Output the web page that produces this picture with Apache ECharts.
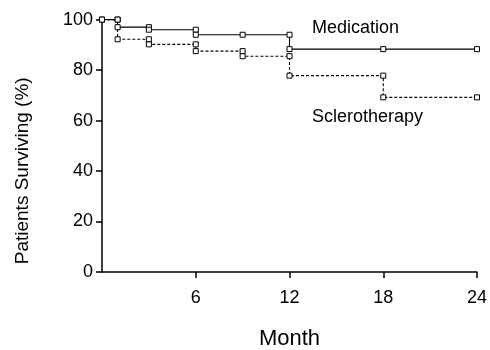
<!DOCTYPE html>
<html>
<head>
<meta charset="utf-8">
<script src="https://cdn.jsdelivr.net/npm/echarts@6/dist/echarts.min.js"></script>
<style>
html,body{margin:0;padding:0;background:#fff;}
#chart{width:490px;height:350px;}
</style>
</head>
<body>
<div id="chart"></div>
<script>
const months = [0, 1, 3, 6, 9, 12, 18, 24];
const medication = [100, 97, 96, 94, 94, 88.3, 88.3, 88.3];
const sclerotherapy = [100, 92.2, 90.2, 87.5, 85.5, 77.8, 69.2, 69.2];
const xTicks = [6, 12, 18, 24];
const yTicks = [0, 20, 40, 60, 80, 100];

function stepPoints(ts, vs) {
  const pts = [[ts[0], vs[0]]];
  for (let i = 1; i < ts.length; i++) {
    if (vs[i] !== vs[i - 1]) pts.push([ts[i], vs[i - 1]]);
    pts.push([ts[i], vs[i]]);
  }
  return pts;
}

const FONT = "'Liberation Sans', Arial, Helvetica, sans-serif";
const chart = echarts.init(document.getElementById('chart'), null, {renderer: 'canvas'});
const axisLine = {show: true, lineStyle: {color: '#000', width: 1.5}};
chart.setOption({
  animation: false,
  backgroundColor: '#fff',
  grid: {left: 102, right: 13, top: 19.6, bottom: 78, containLabel: false, outerBoundsMode: 'none'},
  xAxis: {
    type: 'value', min: 0, max: 24, interval: 6,
    axisLine: axisLine,
    axisTick: {show: true, length: 6, customValues: xTicks, lineStyle: {color: '#000', width: 1.5}},
    splitLine: {show: false},
    axisLabel: {
      color: '#000', fontSize: 18, fontFamily: FONT, margin: 17,
      customValues: xTicks,
      formatter: v => String(v)
    },
    name: 'Month', nameLocation: 'middle', nameGap: 56,
    nameTextStyle: {color: '#000', fontSize: 22, fontFamily: FONT}
  },
  yAxis: {
    type: 'value', min: 0, max: 100, interval: 20,
    axisLine: axisLine,
    axisTick: {show: true, length: 6, lineStyle: {color: '#000', width: 1.5}},
    splitLine: {show: false},
    axisLabel: {
      color: '#000', fontSize: 18, fontFamily: FONT, margin: 9,
      formatter: v => yTicks.includes(v) ? String(v) : ''
    },
    name: 'Patients Surviving (%)', nameLocation: 'middle', nameGap: 70,
    nameTextStyle: {color: '#000', fontSize: 19, fontFamily: FONT, padding: [0, 50, 0, 0]}
  },
  series: [
    {
      name: 'Sclerotherapy', type: 'line', clip: false,
      data: stepPoints(months, sclerotherapy),
      symbol: 'rect', symbolSize: 5, showAllSymbol: true,
      itemStyle: {color: '#fff', borderColor: '#000', borderWidth: 1},
      lineStyle: {color: '#000', width: 1.1, type: [3, 2]}
    },
    {
      name: 'Medication', type: 'line', clip: false,
      data: stepPoints(months, medication),
      symbol: 'rect', symbolSize: 5, showAllSymbol: true,
      itemStyle: {color: '#fff', borderColor: '#000', borderWidth: 1},
      lineStyle: {color: '#000', width: 1.1, type: 'solid'}
    }
  ],
  graphic: [
    {type: 'text', left: 312, top: 19, style: {text: 'Medication', font: '18px ' + FONT, fill: '#000'}},
    {type: 'text', left: 312, top: 108, style: {text: 'Sclerotherapy', font: '18px ' + FONT, fill: '#000'}}
  ]
});
</script>
</body>
</html>
